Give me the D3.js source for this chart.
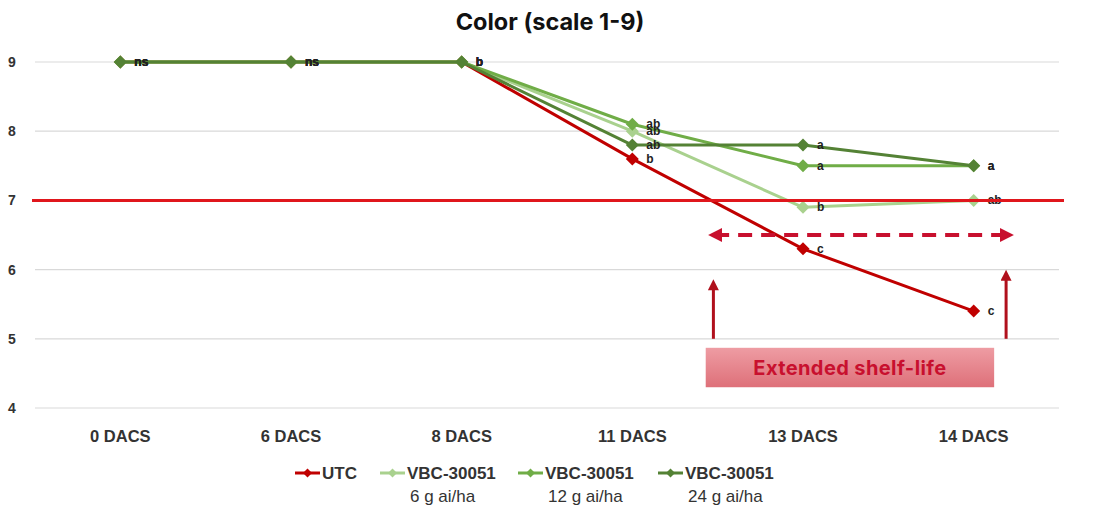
<!DOCTYPE html>
<html><head><meta charset="utf-8">
<script src="https://cdn.jsdelivr.net/npm/d3@7"></script>
<style>
html,body{margin:0;padding:0;background:#fff;}
svg{display:block;}
</style></head>
<body>
<svg id="chart" width="1101" height="508"></svg>
<script>
// ---- data ----
const categories = ["0 DACS","6 DACS","8 DACS","11 DACS","13 DACS","14 DACS"];
const utcValues   = [9, 9, 9, 7.6, 6.3, 5.4];
const vbc6Values  = [9, 9, 9, 8.0, 6.9, 7.0];
const vbc12Values = [9, 9, 9, 8.1, 7.5, 7.5];
const vbc24Values = [9, 9, 9, 7.8, 7.8, 7.5];
const utcLetters   = ["ns","ns","b","b","c","c"];
const vbc6Letters  = ["ns","ns","b","ab","b","ab"];
const vbc12Letters = ["ns","ns","b","ab","a","a"];
const vbc24Letters = ["ns","ns","b","ab","a","a"];
const seriesNames = [["UTC"],["VBC-30051","6 g ai/ha"],["VBC-30051","12 g ai/ha"],["VBC-30051","24 g ai/ha"]];
const yTicks = [4,5,6,7,8,9];
const thresholdValue = 7;
const titleText = "Color (scale 1-9)";
const annotationText = "Extended shelf-life";

const colors = ["#c00000","#a9d18e","#70ad47","#548235"];
const series = [
  {name: seriesNames[0], values: utcValues,   letters: utcLetters,   color: colors[0]},
  {name: seriesNames[1], values: vbc6Values,  letters: vbc6Letters,  color: colors[1]},
  {name: seriesNames[2], values: vbc12Values, letters: vbc12Letters, color: colors[2]},
  {name: seriesNames[3], values: vbc24Values, letters: vbc24Letters, color: colors[3]}
];

const svg = d3.select("#chart");
const pLeft = 35, pRight = 1059, pTop = 62, pBottom = 408;

const x = d3.scaleBand().domain(categories).range([pLeft, pRight]);
const cx = c => x(c) + x.bandwidth()/2;
const y = d3.scaleLinear().domain([4, 9]).range([pBottom, pTop]);

const FONT = "'Liberation Sans', Arial, sans-serif";

// defs
const defs = svg.append("defs");
const grad = defs.append("linearGradient").attr("id","boxg").attr("x1",0).attr("y1",0).attr("x2",0).attr("y2",1);
grad.append("stop").attr("offset","0%").attr("stop-color","#ee9ca3");
grad.append("stop").attr("offset","100%").attr("stop-color","#de7079");
function arrowMarker(id, color, w, h){
  defs.append("marker").attr("id",id).attr("viewBox","0 0 10 10").attr("refX",5).attr("refY",5)
    .attr("markerWidth",w).attr("markerHeight",h).attr("markerUnits","userSpaceOnUse")
    .attr("orient","auto-start-reverse")
    .append("path").attr("d","M0,0 L10,5 L0,10 Z").attr("fill",color);
}
arrowMarker("ah", "#c8102e", 14, 14);
arrowMarker("av", "#b0101c", 14, 11);

// title
svg.append("text").attr("x", 550).attr("y", 30).attr("text-anchor","middle")
  .attr("font-family","Inter, 'Noto Sans', sans-serif").attr("font-weight",700).attr("font-size",23.5)
  .attr("fill","#111").text(titleText);

// gridlines
svg.append("g").selectAll("line").data(yTicks).join("line")
  .attr("x1", pLeft).attr("x2", pRight).attr("y1", d=>y(d)).attr("y2", d=>y(d))
  .attr("stroke","#d9d9d9").attr("stroke-width",1.2);

// y axis labels
const yAxis = d3.axisLeft(y).tickValues(yTicks).tickSize(0).tickPadding(0).tickFormat(d3.format("d"));
const yg = svg.append("g").attr("transform","translate(18,0)").call(yAxis);
yg.select(".domain").remove();
yg.selectAll("text").attr("font-family",FONT).attr("font-weight",700).attr("font-size",14)
  .attr("fill","#333").attr("text-anchor","middle").attr("x",-6);

// x axis labels
const xAxis = d3.axisBottom(x).tickSize(0).tickPadding(0);
const xg = svg.append("g").attr("transform",`translate(0,${pBottom+22})`).call(xAxis);
xg.select(".domain").remove();
xg.selectAll("text").attr("font-family",FONT).attr("font-weight",700).attr("font-size",16.5)
  .attr("fill","#333");

// series lines
const line = d3.line().x((d,i)=>cx(categories[i])).y(d=>y(d));
const diamond = "M0,-6.5L6.5,0L0,6.5L-6.5,0Z";
series.forEach(s=>{
  const g = svg.append("g");
  g.append("path").datum(s.values).attr("d", line).attr("fill","none")
    .attr("stroke", s.color).attr("stroke-width",3).attr("stroke-linejoin","round");
  g.selectAll("path.m").data(s.values).join("path").attr("class","m")
    .attr("transform",(d,i)=>`translate(${cx(categories[i])},${y(d)})`)
    .attr("d", diamond).attr("fill", s.color);
});
// letters
series.forEach(s=>{
  svg.append("g").selectAll("text").data(s.values).join("text")
    .attr("x",(d,i)=>cx(categories[i])+14).attr("y",d=>y(d)+4)
    .attr("font-family",FONT).attr("font-weight",700).attr("font-size",12).attr("fill","#222")
    .text((d,i)=>s.letters[i]);
});

// threshold line
svg.append("line").attr("x1", pLeft-3).attr("x2", pRight+5)
  .attr("y1", y(thresholdValue)).attr("y2", y(thresholdValue))
  .attr("stroke","#e0161c").attr("stroke-width",3);

// annotations (positioned via scales)
const step = x.step();
const ax1 = cx("11 DACS") + step*0.45, ax2 = cx("14 DACS") + step*0.23;
svg.append("line").attr("x1", ax1+6).attr("x2", ax2-6).attr("y1", y(6.5)).attr("y2", y(6.5))
  .attr("stroke","#c8102e").attr("stroke-width",4).attr("stroke-dasharray","14,9")
  .attr("marker-start","url(#ah)").attr("marker-end","url(#ah)");
const vx1 = cx("11 DACS") + step*0.475, vx2 = cx("14 DACS") + step*0.19;
svg.append("line").attr("x1", vx1).attr("x2", vx1).attr("y1", y(5.0)).attr("y2", y(5.78))
  .attr("stroke","#b0101c").attr("stroke-width",3).attr("marker-end","url(#av)");
svg.append("line").attr("x1", vx2).attr("x2", vx2).attr("y1", y(5.0)).attr("y2", y(5.92))
  .attr("stroke","#b0101c").attr("stroke-width",3).attr("marker-end","url(#av)");
const bx1 = cx("11 DACS") + step*0.43, bx2 = cx("14 DACS") + step*0.12;
svg.append("rect").attr("x", bx1).attr("y", y(4.87)).attr("width", bx2-bx1).attr("height", y(4.3)-y(4.87))
  .attr("fill","url(#boxg)");
svg.append("text").attr("x",(bx1+bx2)/2).attr("y", (y(4.87)+y(4.3))/2+7).attr("text-anchor","middle")
  .attr("font-family","Inter, 'Noto Sans', sans-serif").attr("font-weight",700).attr("font-size",20)
  .attr("letter-spacing",0.4)
  .attr("fill","#c8102e").text(annotationText);

// legend
const legendX = [295, 380, 518, 658];
const legY = 473;
const lg = svg.append("g");
series.forEach((s,i)=>{
  const g = lg.append("g").attr("transform",`translate(${legendX[i]},${legY})`);
  g.append("line").attr("x1",0).attr("x2",25).attr("y1",0).attr("y2",0).attr("stroke",s.color).attr("stroke-width",3);
  g.append("path").attr("d","M0,-4.5L4.5,0L0,4.5L-4.5,0Z").attr("transform","translate(12.5,0)").attr("fill",s.color);
  s.name.forEach((t,j)=>{
    g.append("text").attr("x", j===0 ? 27 : 30).attr("y", 6 + j*23)
      .attr("font-family",FONT).attr("font-weight", j===0?700:400).attr("font-size",17).attr("fill","#333").text(t);
  });
});
</script>
</body></html>
